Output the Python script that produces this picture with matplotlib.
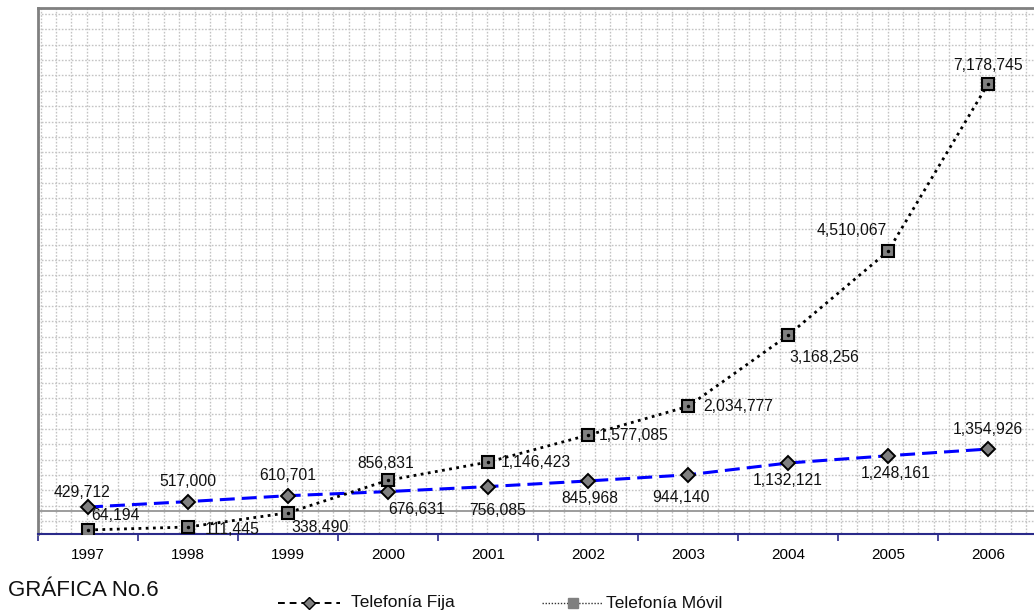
import matplotlib
matplotlib.use("Agg")
import matplotlib.pyplot as plt
from matplotlib.lines import Line2D
import numpy as np

plt.rcParams['font.family'] = ['Liberation Sans', 'DejaVu Sans']

years = ['1997', '1998', '1999', '2000', '2001', '2002', '2003', '2004', '2005', '2006']
fija = [429712, 517000, 610701, 676631, 756085, 845968, 944140, 1132121, 1248161, 1354926]
movil = [64194, 111445, 338490, 856831, 1146423, 1577085, 2034777, 3168256, 4510067, 7178745]
series_names = ['Telefonía Fija', 'Telefonía Móvil']
title_text = 'GRÁFICA No.6'

# label offsets (pixels) relative to the points
fija_off = [(-6, 15), (0, 20), (0, 20), (29, -18), (10, -24), (2, -18), (-7, -23), (0, -17), (8, -18), (0, 20)]
movil_off = [(27, 14), (44, -2), (32, -15), (-2, 17), (48, 0), (46, 0), (50, 0), (36, -22), (-36, 21), (0, 18)]

W, H = 1034, 613
fig = plt.figure(figsize=(W / 100, H / 100), dpi=100)

L, R, T, B = 38, 1038, 8, 534
pos = [L / W, (H - B) / H, (R - L) / W, (B - T) / H]

# background grid pattern axes (pixel coordinates)
gax = fig.add_axes(pos, zorder=0)
gax.set_xlim(L, R)
gax.set_ylim(B, T)
gax.axis('off')
for k in range(40):
    y = 14 + k * 15.37
    if y < B - 1:
        gax.plot([L, R], [y, y], color='#c4c4c4', lw=1.0, ls=(0, (1.2, 1.2)))
for k in range(70):
    x = 40.6 + k * 15.4
    if x < R:
        gax.plot([x, x], [T, B], color='#c4c4c4', lw=1.0, ls=(0, (1.2, 1.2)))

ax = fig.add_axes(pos, zorder=1)
ax.set_facecolor('none')
x = np.arange(len(years))
ax.set_xlim(-0.5, len(years) - 0.5)
ax.set_ylim(0, 8.39e6)

ax.axhline(370000, color='#8c8c8c', lw=1.2, zorder=1)

ax.plot(x, fija, color='#0000ff', lw=2.2, ls=(0, (4.9, 2.3)), zorder=2)
ax.plot(x, movil, color='black', lw=2.0, ls=(0, (1, 1.6)), zorder=3)
ax.plot(x, fija, ls='none', marker='D', ms=7.5, mfc='#808080', mec='black', mew=1.4, zorder=4)
ax.plot(x, movil, ls='none', marker='s', ms=8, mfc='#808080', mec='black', mew=1.5, zorder=4)
ax.plot(x, movil, ls='none', marker='o', ms=1.5, mfc='black', mec='black', zorder=5)

for i in range(len(years)):
    ax.annotate(f'{fija[i]:,}', (x[i], fija[i]), xytext=fija_off[i], textcoords='offset pixels',
                ha='center', va='center', fontsize=11.3, color='#111111', zorder=6)
    ax.annotate(f'{movil[i]:,}', (x[i], movil[i]), xytext=movil_off[i], textcoords='offset pixels',
                ha='center', va='center', fontsize=11.3, color='#111111', zorder=6)

for s in ['top', 'left', 'right']:
    ax.spines[s].set_color('#808080')
    ax.spines[s].set_linewidth(2)
ax.spines['bottom'].set_color('#2a2a8a')
ax.spines['bottom'].set_linewidth(1.5)
ax.set_yticks([])
ax.set_xticks(x)
ax.set_xticklabels(years, fontsize=11)
ax.tick_params(axis='x', length=0, pad=10)
ax.set_xticks(np.arange(-0.5, len(years), 1.0), minor=True)
ax.tick_params(axis='x', which='minor', length=5, width=1.2, color='#2a2a8a', direction='out')

# title text
fig.text(8 / W, 1 - 596 / H, title_text, fontsize=16, ha='left', va='baseline', color='#111111')

# legend (manual)
ly = 1 - 603 / H
def fx(px):
    return px / W
fig.add_artist(Line2D([fx(278), fx(340)], [ly, ly], color='black', lw=1.4, ls=(0, (3.5, 2.5))))
fig.add_artist(Line2D([fx(309)], [ly], ls='none', marker='D', ms=6.5, mfc='#808080', mec='black', mew=1.0))
fig.text(fx(351), ly, series_names[0], fontsize=12.5, ha='left', va='center', color='#111111')
fig.add_artist(Line2D([fx(542), fx(603)], [ly, ly], color='#333333', lw=1.0, ls=(0, (1, 1.2))))
fig.add_artist(Line2D([fx(573)], [ly], ls='none', marker='s', ms=7, mfc='#808080', mec='#808080', mew=1.0))
fig.text(fx(606), ly, series_names[1], fontsize=12.5, ha='left', va='center', color='#111111')

fig.savefig('out.png', dpi=100)
